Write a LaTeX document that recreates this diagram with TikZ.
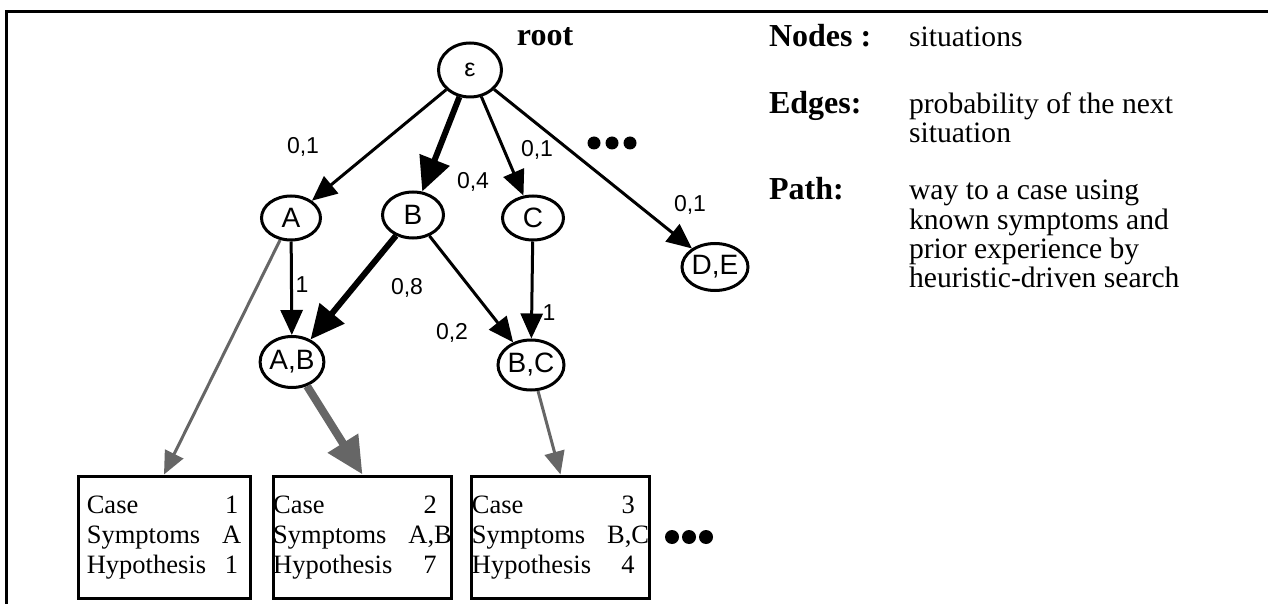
\documentclass[tikz,border=0pt]{standalone}
\usepackage{fontspec}
\setmainfont{Liberation Serif}
\setsansfont{Liberation Sans}
\usetikzlibrary{arrows.meta,shapes.geometric}

\tikzset{
  situation/.style={ellipse, draw, line width=1.5pt, inner sep=0pt,
    minimum width=29.5pt, minimum height=22pt,
    font=\sffamily\fontsize{14}{14}\selectfont},
  pair/.style={situation, minimum width=31.5pt, minimum height=25.5pt},
  prob/.style={font=\sffamily\fontsize{11.5}{12}\selectfont},
  link/.style={line width=1.5pt, -{Triangle[length=12.5pt,width=11pt]}},
  heavylink/.style={line width=3pt, -{Triangle[length=17pt,width=15.5pt]}},
  caseway/.style={draw=black!60, line width=1.5pt, -{Triangle[length=11.5pt,width=10pt]}},
  casebox/.style={draw, line width=1.5pt, inner sep=0pt, minimum height=61pt,
    font=\fontsize{13.25}{15}\selectfont},
  legend/.style={anchor=base west, font=\fontsize{14.8}{14}\selectfont},
  legendhead/.style={anchor=base west, font=\bfseries\fontsize{16}{16}\selectfont},
}
\newcommand{\casetable}[3]{%
  \begin{tabular}{@{}l@{\hspace{8pt}}c@{}}
    Case & #1\\ Symptoms & #2\\ Hypothesis & #3
  \end{tabular}}

\begin{document}
\begin{tikzpicture}[x=0.5pt, y=-0.5pt]
\useasboundingbox (0,0) rectangle (1268,604);

% 1. 外框
\coordinate (frameR) at (1268,12);
\coordinate (frameC) at (6,12);
\coordinate (frameB) at (6,604);
\draw[line width=1.5pt] (frameR) -- (frameC) -- (frameB);

% 2. 树的结点 (situations)
\node[situation, minimum width=31.5pt, minimum height=27pt, font=\sffamily\fontsize{12.5}{12.5}\selectfont] (eps) at (470,70) {ε};
\node[anchor=center, font=\bfseries\fontsize{16}{16}\selectfont] (root) at (545,37) {root};
\node[situation] (A) at (291,218) {A};
\node[situation, minimum width=30.5pt, minimum height=23pt] (B) at (413,215) {B};
\node[situation, minimum width=30.5pt] (C) at (533,218) {C};
\node[pair, minimum height=23.5pt] (DE) at (715,267) {D,E};
\node[pair] (AB) at (292,362) {A,B};
\node[pair, minimum width=30.5pt, minimum height=25pt] (BC) at (531,365) {B,C};

% 3. 案例框
\node[casebox, minimum width=86pt] (case1) at (164,537) {\casetable{1}{A}{1}};
\node[casebox, minimum width=87.5pt] (case2) at (362.5,537) {\casetable{2}{A,B}{7}};
\node[casebox, minimum width=87.5pt] (case3) at (560.5,537) {\casetable{3}{B,C}{4}};

% 4. 边 (probabilities)
\draw[link] (eps) -- (A);
\draw[heavylink] (eps) -- (B);
\draw[link] (eps) -- (C);
\draw[link] (eps) -- (DE);
\draw[link] (A) -- (AB);
\draw[heavylink] (B) -- (AB);
\draw[link] (B) -- (BC);
\draw[link] (C) -- (BC);

\node[prob] (pA) at (303,147) {0,1};
\node[prob] (pB) at (473,182) {0,4};
\node[prob] (pC) at (537,150) {0,1};
\node[prob] (pDE) at (690,205) {0,1};
\node[prob] (pAAB) at (302,285) {1};
\node[prob] (pBAB) at (407,288) {0,8};
\node[prob] (pBBC) at (452,333) {0,2};
\node[prob] (pCBC) at (549,313) {1};

% 5. 路径 (到案例)
\draw[caseway] (A) -- (case1.north);
\draw[caseway, line width=4pt, -{Triangle[length=18.5pt,width=17pt]}] (AB) -- (case2.north);
\draw[caseway] (BC) -- (case3.north);

% 6. 省略号
\foreach \x in {594,612,630}
  {\fill (\x,143) circle (6.5);}
\foreach \x in {672,689,706}
  {\fill (\x,537) circle (7);}

% 7. 说明
\node[legendhead] (hNodes) at (762,47) {Nodes :};
\node[legendhead] (hEdges) at (762,114) {Edges:};
\node[legendhead] (hPath) at (762,200) {Path:};
\node[legend] (tNodes) at (902,47) {situations};
\foreach \y/\t [count=\i] in {114/probability of the next, 143/situation}
  {\node[legend] (tEdges\i) at (902,\y) {\t};}
\foreach \y/\t [count=\i] in {200/way to a case using, 229/known symptoms and,
    258/prior experience by, 287/heuristic-driven search}
  {\node[legend] (tPath\i) at (902,\y) {\t};}
\end{tikzpicture}
\end{document}
